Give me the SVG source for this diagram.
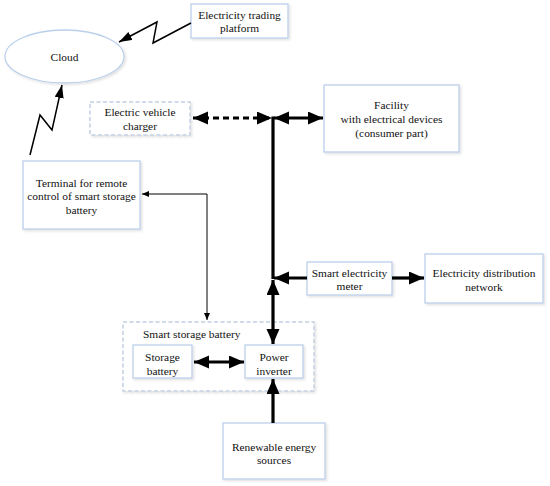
<svg xmlns="http://www.w3.org/2000/svg" width="550" height="486" viewBox="0 0 550 486" font-family="'Liberation Serif', 'Times New Roman', serif">
<style>
text{font-family:'Liberation Serif','Times New Roman',serif;font-size:11.4px;fill:#111;text-anchor:middle}
.box{fill:#fff;stroke:#bcd0ea;stroke-width:1.3;filter:url(#sh)}
.dbox{fill:#fff;stroke:#c3cfe2;stroke-width:1.5;stroke-dasharray:4 2.5;filter:url(#sh)}
.thick{fill:none;stroke:#000;stroke-width:3.2}
.thin{fill:none;stroke:#000;stroke-width:1.5}
.hair{fill:none;stroke:#000;stroke-width:1}
</style>
<defs>
<filter id="sh" x="-10%" y="-10%" width="130%" height="130%">
<feDropShadow dx="1.5" dy="1.5" stdDeviation="0.8" flood-color="#000" flood-opacity="0.12"/>
</filter>
<marker id="big" markerUnits="userSpaceOnUse" markerWidth="16" markerHeight="14" refX="15" refY="6.5" orient="auto-start-reverse">
<path d="M0,0 L15,6.5 L0,13 Z" fill="#000"/>
</marker>
<marker id="mid" markerUnits="userSpaceOnUse" markerWidth="14" markerHeight="10" refX="13" refY="4.5" orient="auto-start-reverse">
<path d="M0,0 L13,4.5 L0,9 Z" fill="#000"/>
</marker>
<marker id="small" markerUnits="userSpaceOnUse" markerWidth="8" markerHeight="8" refX="7" refY="3" orient="auto-start-reverse">
<path d="M0,0 L7,3 L0,6 Z" fill="#000"/>
</marker>
</defs>

<g id="cloud">
<ellipse cx="64.5" cy="56.5" rx="59.5" ry="26.5" fill="#fff" stroke="#bcd0ea" stroke-width="1.3" filter="url(#sh)"/>
<text x="64.5" y="61">Cloud</text>
</g>

<g id="trading">
<rect class="box" x="191" y="4" width="97" height="34"/>
<text x="239.5" y="19">Electricity trading</text>
<text x="239.5" y="32">platform</text>
</g>

<g id="ev-charger">
<rect class="dbox" x="90" y="102" width="100" height="33"/>
<text x="140" y="116">Electric vehicle</text>
<text x="140" y="130">charger</text>
</g>

<g id="facility">
<rect class="box" x="324" y="85" width="135" height="67"/>
<text x="391.5" y="109">Facility</text>
<text x="391.5" y="123">with electrical devices</text>
<text x="391.5" y="137">(consumer part)</text>
</g>

<g id="terminal">
<rect class="box" x="23" y="161" width="117" height="68"/>
<text x="81.5" y="187">Terminal  for remote</text>
<text x="81.5" y="200">control of smart storage</text>
<text x="81.5" y="214">battery</text>
</g>

<g id="meter">
<rect class="box" x="307" y="262" width="85" height="33"/>
<text x="349.5" y="277">Smart electricity</text>
<text x="349.5" y="290">meter</text>
</g>

<g id="distribution">
<rect class="box" x="425" y="254" width="118" height="49"/>
<text x="484" y="277">Electricity distribution</text>
<text x="484" y="291">network</text>
</g>

<g id="smart-storage">
<rect class="dbox" x="123" y="322" width="191" height="69"/>
<text x="143" y="338" style="text-anchor:start">Smart storage battery</text>
</g>

<g id="storage-battery">
<rect class="box" x="133" y="345" width="59" height="33"/>
<text x="162.5" y="361">Storage</text>
<text x="162.5" y="375">battery</text>
</g>

<g id="inverter">
<rect class="box" x="245" y="345" width="58" height="33"/>
<text x="274" y="361">Power</text>
<text x="274" y="375">inverter</text>
</g>

<g id="renewable">
<rect class="box" x="223" y="423" width="102" height="56"/>
<text x="274" y="451">Renewable energy</text>
<text x="274" y="464">sources</text>
</g>

<g id="connectors">
<polyline class="thin" points="191,23 153,43 157,22 119,42" marker-end="url(#mid)"/>
<polyline class="thin" points="30,155 40,115 52,130 62,85" marker-end="url(#mid)"/>
<line class="thick" x1="193" y1="118" x2="272" y2="118" stroke-dasharray="6 4" marker-start="url(#big)" marker-end="url(#big)"/>
<line class="thick" x1="273" y1="116.5" x2="273" y2="279"/>
<line class="thick" x1="274" y1="118" x2="323" y2="118" marker-start="url(#big)" marker-end="url(#big)"/>
<line class="thick" x1="307" y1="278" x2="274" y2="278" marker-end="url(#big)"/>
<line class="thick" x1="392" y1="278" x2="424" y2="278" marker-end="url(#big)"/>
<line class="thick" x1="273" y1="280" x2="273" y2="344" marker-start="url(#big)" marker-end="url(#big)"/>
<line class="thick" x1="194" y1="362" x2="244" y2="362" marker-start="url(#big)" marker-end="url(#big)"/>
<line class="thick" x1="273" y1="423" x2="273" y2="379" marker-end="url(#big)"/>
<polyline class="hair" points="142,194 207,194 207,320" marker-start="url(#small)" marker-end="url(#small)"/>
</g>
</svg>
